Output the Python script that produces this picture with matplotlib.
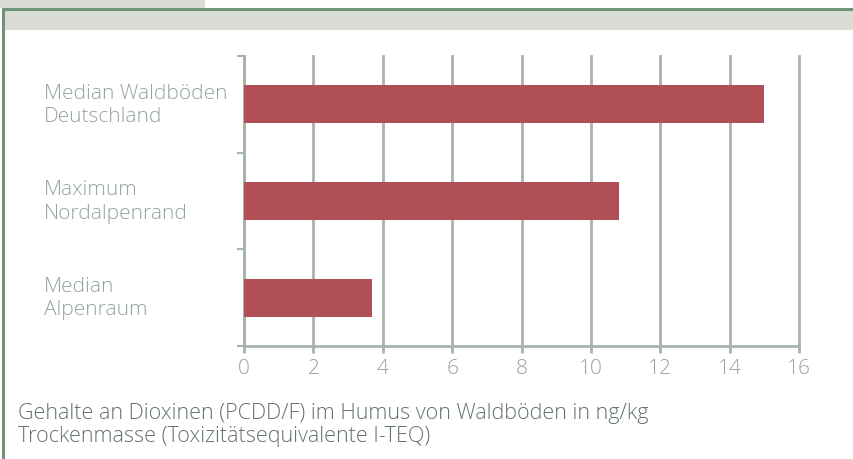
import numpy as np
import matplotlib
matplotlib.use('Agg')
import matplotlib.pyplot as plt
from matplotlib.patches import Rectangle
from matplotlib.lines import Line2D
from matplotlib.transforms import blended_transform_factory

categories = ['Median Waldböden\nDeutschland', 'Maximum\nNordalpenrand', 'Median\nAlpenraum']
values = [15.0, 10.8, 3.7]
xticks = [0, 2, 4, 6, 8, 10, 12, 14, 16]
caption = ('Gehalte an Dioxinen (PCDD/F) im Humus von Waldböden in ng/kg\n'
           'Trockenmasse (Toxizitätsequivalente I-TEQ)')

BAR = '#b04f55'
GRID = '#a6b4aa'
LABEL = '#93a498'
CAPTION = '#627366'
BAND = '#d9ddd5'
BORDER = '#6f9479'

plt.rcParams['font.family'] = ['Open Sans', 'DejaVu Sans']

W, H = 854, 460
fig = plt.figure(figsize=(W / 100, H / 100), dpi=100)

# frame: tab, band and green border
fig.patches.append(Rectangle((0, 1 - 9 / H), 205 / W, 9 / H, transform=fig.transFigure,
                             facecolor=BAND, edgecolor='none'))
fig.patches.append(Rectangle((3 / W, 1 - 31 / H), 1, 21 / H, transform=fig.transFigure,
                             facecolor=BAND, edgecolor='none'))
fig.lines.append(Line2D([2.5 / W, 1], [1 - 9.5 / H, 1 - 9.5 / H], transform=fig.transFigure,
                        color=BORDER, lw=2.2))
fig.lines.append(Line2D([2.5 / W, 2.5 / W], [0, 1 - 9.5 / H], transform=fig.transFigure,
                        color=BORDER, lw=2.2))

ax = fig.add_axes([244 / W, 113 / H, 555 / W, 290 / H])
y = np.arange(len(categories))
ax.barh(y, values, height=0.39, color=BAR, zorder=3)

ax.set_xlim(0, 16)
ax.set_ylim(2.5, -0.5)
ax.set_xticks(xticks)
ax.set_xticklabels([str(t) for t in xticks])
ax.set_yticks([-0.5, 0.5, 1.5, 2.5])
ax.set_yticklabels([])
ax.grid(axis='x', color=GRID, lw=2, zorder=0)
for gl in ax.get_xgridlines():
    gl.set_clip_on(False)
ax.tick_params(axis='x', colors=GRID, length=5, width=2, labelsize=15, labelcolor=LABEL, pad=4)
ax.tick_params(axis='y', colors=GRID, length=5, width=1.5)
for s in ['top', 'right']:
    ax.spines[s].set_visible(False)
for s in ['left', 'bottom']:
    ax.spines[s].set_color(GRID)
    ax.spines[s].set_linewidth(2)
for lbl in ax.get_xticklabels():
    lbl.set_fontweight('light')

tr = blended_transform_factory(fig.transFigure, ax.transData)
for yi, cat in zip(y, categories):
    ax.text(44 / W, yi, cat, transform=tr, ha='left', va='center', fontsize=15,
            color=LABEL, fontweight='light', linespacing=1.22)

fig.text(18 / W, 1 - 425 / H, caption, ha='left', va='center', fontsize=15.5,
         color=CAPTION, fontweight='light', linespacing=1.15)

fig.savefig('out.png', dpi=100)
